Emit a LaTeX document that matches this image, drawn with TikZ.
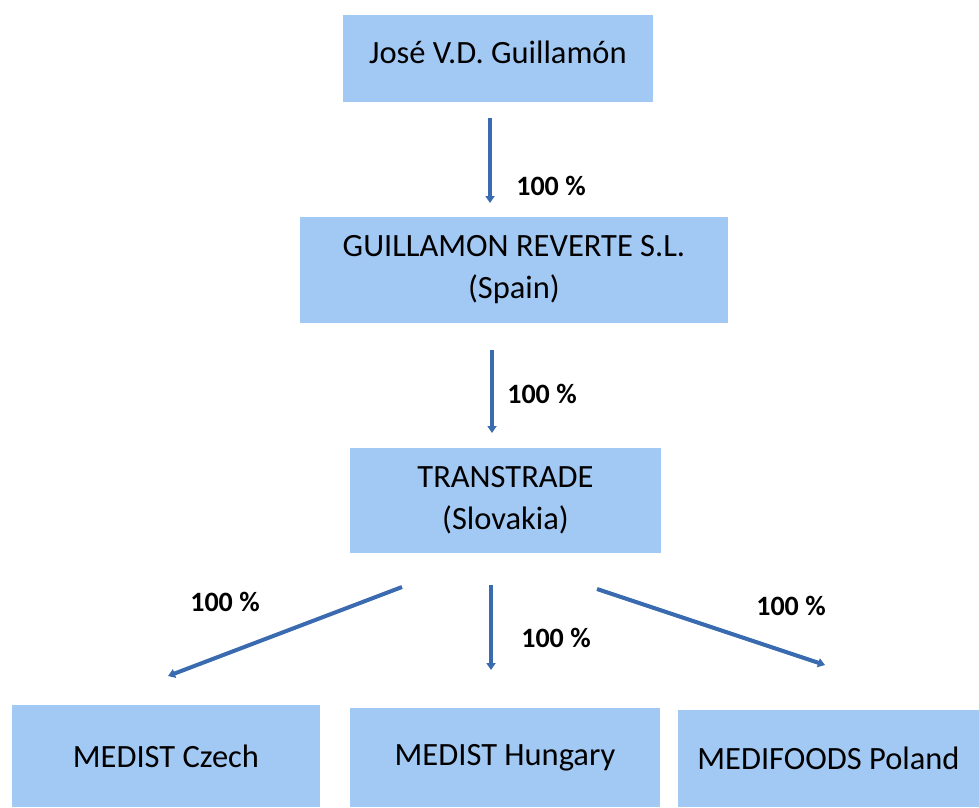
\documentclass[tikz,border=0pt]{standalone}
\usepackage{fontspec}
\setmainfont{Carlito}
\usetikzlibrary{arrows.meta}
\definecolor{boxblue}{RGB}{162,200,244}
\definecolor{arrblue}{RGB}{58,106,176}
\tikzset{
	entity/.style={fill=boxblue, inner sep=0pt, align=center, font=\fontsize{32.5}{42}\selectfont},
	share/.style={draw=arrblue, line width=4pt, -{Triangle[length=7pt,width=9pt]}},
	pct/.style={font=\fontsize{28}{30}\selectfont\bfseries}
}
\begin{document}
\begin{tikzpicture}[x=1pt,y=-1pt]
					\useasboundingbox (0,0) rectangle (979,807);
					%Societa
					\node [entity, minimum width=310pt, minimum height=87pt] (jose) at (498,58.5) {\raisebox{12pt}{José V.D. Guillamón}};
					\node [entity, minimum width=428pt, minimum height=106pt] (gr) at (514,270) {GUILLAMON REVERTE S.L.\\(Spain)};
					\node [entity, minimum width=311pt, minimum height=105pt] (tt) at (505.5,500.5) {TRANSTRADE\\(Slovakia)};
					\node [entity, minimum width=308pt, minimum height=102pt] (cz) at (166,756) {MEDIST Czech};
					\node [entity, minimum width=310pt, minimum height=99pt] (hu) at (505,757.5) {MEDIST Hungary};
					\node [entity, minimum width=301pt, minimum height=97pt] (pl) at (828.5,758.5) {MEDIFOODS Poland};
					%Frecce
					\coordinate (jose-out) at (490,118);
					\coordinate (gr-in) at (490,203);
					\coordinate (gr-out) at (492,350);
					\coordinate (tt-in) at (492,433);
					\coordinate (tt-l) at (402,587);
					\coordinate (tt-c) at (491,585);
					\coordinate (tt-r) at (597,589);
					\coordinate (cz-in) at (168,676);
					\coordinate (hu-in) at (491,670);
					\coordinate (pl-in) at (825,665);
					\draw [share] (jose-out) -- (gr-in) node [pct, pos=0.8, right=21pt] {100 \%};
					\draw [share] (gr-out) -- (tt-in) node [pct, pos=0.53, right=10pt] {100 \%};
					\draw [share] (tt-l) -- (cz-in);
					\draw [share] (tt-c) -- (hu-in) node [pct, pos=0.62, right=25pt] {100 \%};
					\draw [share] (tt-r) -- (pl-in);
					%Valori
					\node [pct] (lbl-cz) at (225,602) {100 \%};
					\node [pct] (lbl-pl) at (791,606) {100 \%};
		\end{tikzpicture}
\end{document}
